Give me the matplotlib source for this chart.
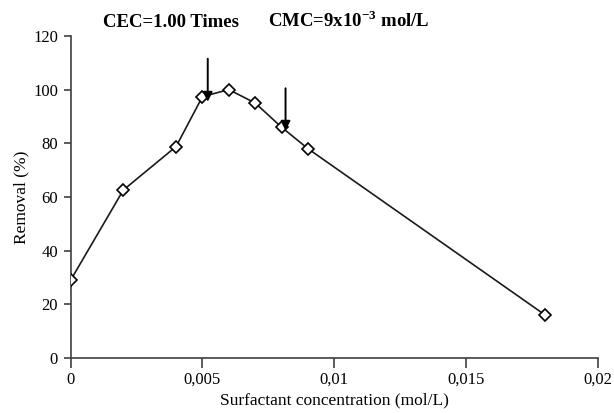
import matplotlib
matplotlib.use('Agg')
import matplotlib.pyplot as plt
from matplotlib.ticker import FuncFormatter

plt.rcParams['font.family'] = 'Liberation Serif'
plt.rcParams['mathtext.fontset'] = 'custom'
plt.rcParams['mathtext.rm'] = 'Liberation Serif:bold'
plt.rcParams['mathtext.bf'] = 'Liberation Serif:bold'

# surfactant concentration (mol/L) and removal (%)
conc = [0, 0.002, 0.004, 0.005, 0.006, 0.007, 0.008, 0.009, 0.018]
removal = [29, 62.6, 78.8, 97.4, 100, 95, 86, 78, 16]

# arrows: x position, start (top) and tip value
arrow_x = [0.0052, 0.00815]
arrow_top = [111.5, 100.5]
arrow_tip = [95.5, 84.7]

xticks = [0, 0.005, 0.01, 0.015, 0.02]
yticks = [0, 20, 40, 60, 80, 100, 120]

fig = plt.figure(figsize=(6.14, 4.13), dpi=100)
ax = fig.add_axes([0.115, 0.133, 0.859, 0.78])

ax.plot(conc, removal, color='#1a1a1a', lw=1.2, marker='D', ms=6.5,
        mfc='white', mec='black', mew=1.2, zorder=3)

for x, t, h in zip(arrow_x, arrow_top, arrow_tip):
    ax.annotate('', xy=(x, h), xytext=(x, t),
                arrowprops=dict(arrowstyle='-|>', color='black', lw=1.4,
                                mutation_scale=14, shrinkA=0, shrinkB=0),
                zorder=4)

ax.set_xlim(0, 0.02)
ax.set_ylim(0, 120)
ax.set_xticks(xticks)
ax.set_yticks(yticks)
ax.xaxis.set_major_formatter(FuncFormatter(lambda v, p: ('%g' % v).replace('.', ',')))
ax.tick_params(direction='out', labelsize=12, color='#404040')
ax.tick_params(axis='x', length=7, width=1.2, pad=3)
ax.tick_params(axis='y', length=5, width=1.2, pad=4)

for s in ['top', 'right']:
    ax.spines[s].set_visible(False)
for s in ['left', 'bottom']:
    ax.spines[s].set_color('#404040')
    ax.spines[s].set_linewidth(1.2)

ax.set_xlabel('Surfactant concentration (mol/L)', fontsize=12.5, labelpad=3)
ax.set_ylabel('Removal (%)', fontsize=12.5, labelpad=3)

fig.text(0.167, 0.935, 'CEC=1.00 Times', fontsize=13.5, fontweight='bold')
fig.text(0.4365, 0.935, r'CMC=9x10$^{-3}$ mol/L', fontsize=13.5, fontweight='bold')

plt.savefig('out.png', dpi=100)
